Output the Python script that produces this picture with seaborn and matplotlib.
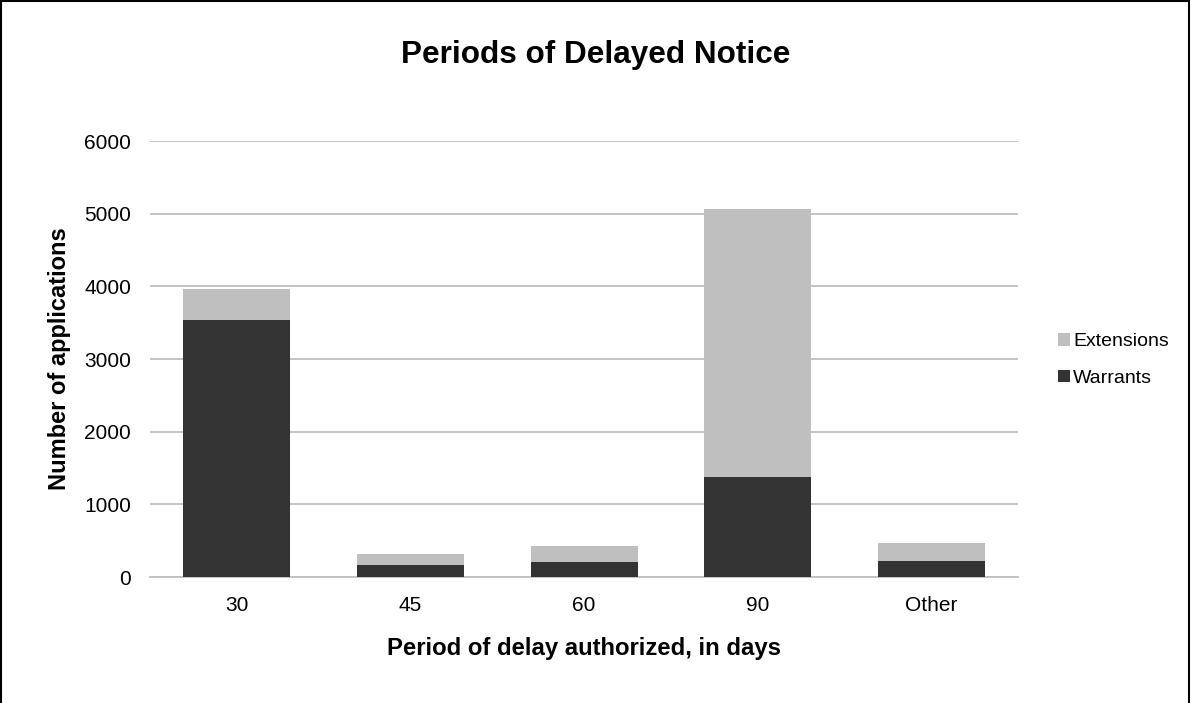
import matplotlib
matplotlib.use("Agg")
import matplotlib.pyplot as plt
import seaborn as sns
import pandas as pd
from matplotlib.patches import Rectangle, Patch

categories = ["30", "45", "60", "90", "Other"]
warrants = [3540, 165, 215, 1380, 220]
extensions = [430, 155, 215, 3680, 245]
yticks = [0, 1000, 2000, 3000, 4000, 5000, 6000]

sns.set_theme(style="white")
plt.rcParams['font.family'] = ['Liberation Sans', 'DejaVu Sans']
plt.rcParams['text.color'] = 'black'
plt.rcParams['axes.labelcolor'] = 'black'

df = pd.DataFrame({
    "period": categories,
    "Warrants": warrants,
    "Extensions": extensions,
})
df["Total"] = df["Warrants"] + df["Extensions"]

fig = plt.figure(figsize=(11.91, 7.03), dpi=100)
ax = fig.add_axes([0.126, 0.179, 0.729, 0.6204])

light = "#BFBFBF"
dark = "#333333"
sns.barplot(data=df, x="period", y="Total", color=light, width=0.616,
            saturation=1, ax=ax, zorder=2, linewidth=0)
sns.barplot(data=df, x="period", y="Warrants", color=dark, width=0.616,
            saturation=1, ax=ax, zorder=3, linewidth=0)

ax.set_ylim(0, 6000)
ax.set_yticks(yticks)
ax.set_yticklabels([str(t) for t in yticks])
ax.yaxis.grid(True, color="#BFBFBF", linewidth=1.3, zorder=0)
ax.set_axisbelow(True)
for s in ["top", "right", "left"]:
    ax.spines[s].set_visible(False)
ax.spines["bottom"].set_color("#BFBFBF")
ax.spines["bottom"].set_linewidth(1.3)
ax.tick_params(axis="y", length=0, labelsize=15, colors="black", pad=13.7)
ax.tick_params(axis="x", length=0, labelsize=15, colors="black", pad=13.7)
ax.set_xlim(-0.5, 4.5)

ax.set_xlabel("Period of delay authorized, in days", fontsize=17.2,
              fontweight="bold", labelpad=16)
ax.set_ylabel("Number of applications", fontsize=17, fontweight="bold",
              labelpad=9.4)
fig.text(0.5, 1 - 63.5 / 703, "Periods of Delayed Notice", ha="center",
         va="baseline", fontsize=22.7, fontweight="bold")

handles = [Patch(facecolor=light, edgecolor="none", label="Extensions"),
           Patch(facecolor=dark, edgecolor="none", label="Warrants")]
fig.legend(handles=handles, loc="center left", bbox_to_anchor=(0.8737, 0.488),
           frameon=False, fontsize=14, handlelength=0.62, handleheight=0.62,
           handletextpad=0.15, labelspacing=1.0)

fig.patches.append(Rectangle((0.001, -0.02), 0.997, 1.018, transform=fig.transFigure,
                             fill=False, edgecolor="black", linewidth=1.5))

fig.savefig("out.png", dpi=100)
